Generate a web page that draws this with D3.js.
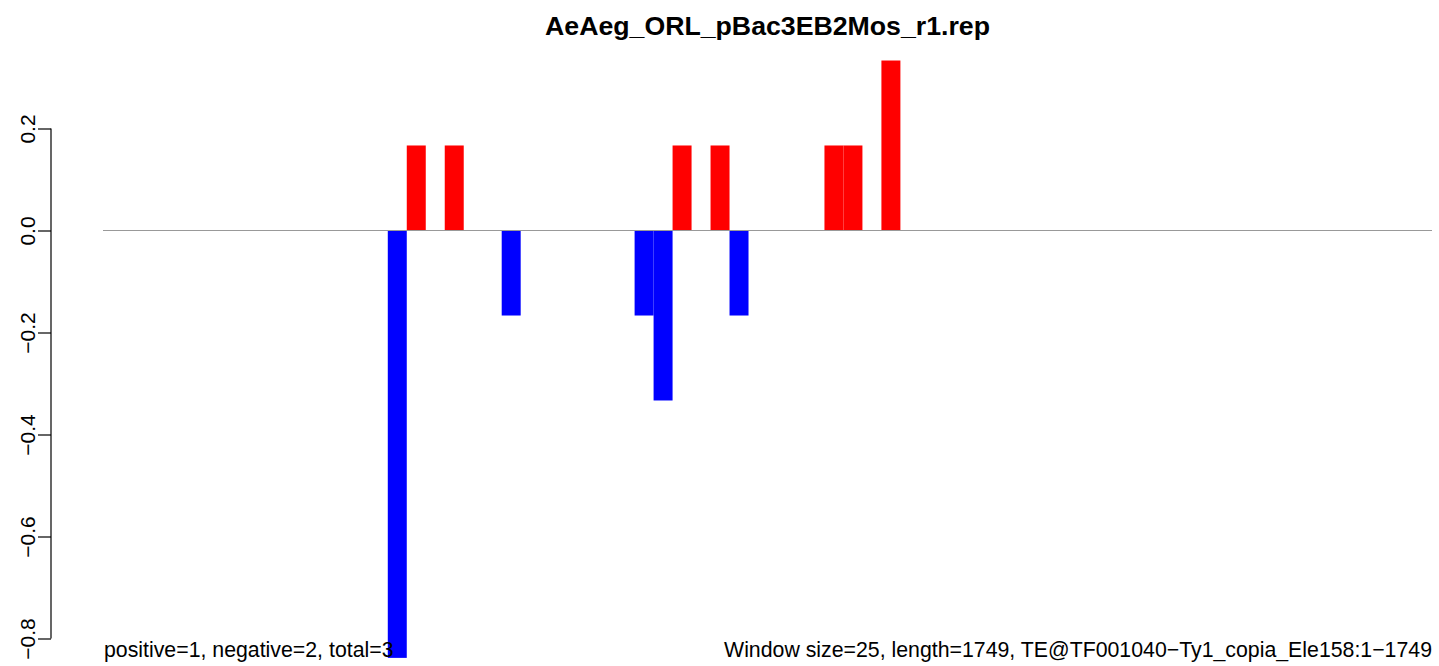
<!DOCTYPE html>
<html>
<head>
<meta charset="utf-8">
<script src="https://cdn.jsdelivr.net/npm/d3@7"></script>
<style>
  html, body { margin: 0; padding: 0; background: #fff; }
  svg { display: block; }
  text { font-family: "Liberation Sans", Arial, Helvetica, sans-serif; fill: #000; }
</style>
</head>
<body>
<svg id="chart" width="1439" height="666"></svg>
<script>
// ---- data ----
const title = "AeAeg_ORL_pBac3EB2Mos_r1.rep";
const nWindows = 70; // length 1749 / window size 25
const windowIndex = d3.range(nWindows);
// non-zero windows (index, value); all other windows are 0
const posIndex = [16, 18, 30, 32, 38, 39, 41];
const posValues = [0.1667, 0.1667, 0.1667, 0.1667, 0.1667, 0.1667, 0.3333];
const negIndex = [15, 21, 28, 29, 33];
const negValues = [-0.838, -0.1667, -0.1667, -0.3333, -0.1667];
const yTicks = [-0.8, -0.6, -0.4, -0.2, 0.0, 0.2];
const yTickLabels = ["\u22120.8", "\u22120.6", "\u22120.4", "\u22120.2", "0.0", "0.2"];
const leftNote = "positive=1, negative=2, total=3";
const rightNote = "Window size=25, length=1749, TE@TF001040\u2212Ty1_copia_Ele158:1\u22121749";

const values = windowIndex.map(() => 0);
posIndex.forEach((i, k) => values[i] = posValues[k]);
negIndex.forEach((i, k) => values[i] = negValues[k]);

const svg = d3.select("#chart");

const x = d3.scaleBand().domain(windowIndex).range([103, 1432]).padding(0);
const y = d3.scaleLinear().domain([-0.8, 0.2]).range([638.5, 128.5]);

// bars
svg.append("g").selectAll("rect")
  .data(windowIndex.filter(i => values[i] !== 0))
  .join("rect")
  .attr("x", i => x(i))
  .attr("width", x.bandwidth())
  .attr("y", i => Math.min(y(values[i]), y(0)))
  .attr("height", i => Math.abs(y(values[i]) - y(0)))
  .attr("fill", i => values[i] > 0 ? "#FF0000" : "#0000FF");

// zero line
svg.append("line")
  .attr("x1", x.range()[0]).attr("x2", x.range()[1])
  .attr("y1", y(0)).attr("y2", y(0))
  .attr("stroke", "#999999").attr("stroke-width", 1.2);

// y axis
const yAxis = d3.axisLeft(y)
  .tickValues(yTicks)
  .tickFormat((d, i) => yTickLabels[i])
  .tickSize(13)
  .tickPadding(0);
const ag = svg.append("g").attr("transform", "translate(51,0)").call(yAxis);
ag.select(".domain").attr("stroke", "#000").attr("stroke-width", 1.2)
  .attr("d", `M0,${y(0.2)}V${y(-0.8)}`);
ag.selectAll(".tick line").attr("stroke", "#000").attr("stroke-width", 1.2);
ag.selectAll(".tick text")
  .attr("font-family", "Liberation Sans, Arial, sans-serif")
  .attr("font-size", 21)
  .attr("x", 0).attr("dy", 0)
  .attr("text-anchor", "middle")
  .attr("transform", "translate(-16,0) rotate(-90)");

// title
svg.append("text")
  .attr("x", 767.5).attr("y", 35)
  .attr("text-anchor", "middle")
  .attr("font-size", 26.7)
  .attr("font-weight", "bold")
  .text(title);

// bottom notes
svg.append("text")
  .attr("x", 104).attr("y", 657)
  .attr("font-size", 21.3)
  .text(leftNote);
svg.append("text")
  .attr("x", 1432).attr("y", 657)
  .attr("text-anchor", "end")
  .attr("font-size", 21.3)
  .text(rightNote);
</script>
</body>
</html>
